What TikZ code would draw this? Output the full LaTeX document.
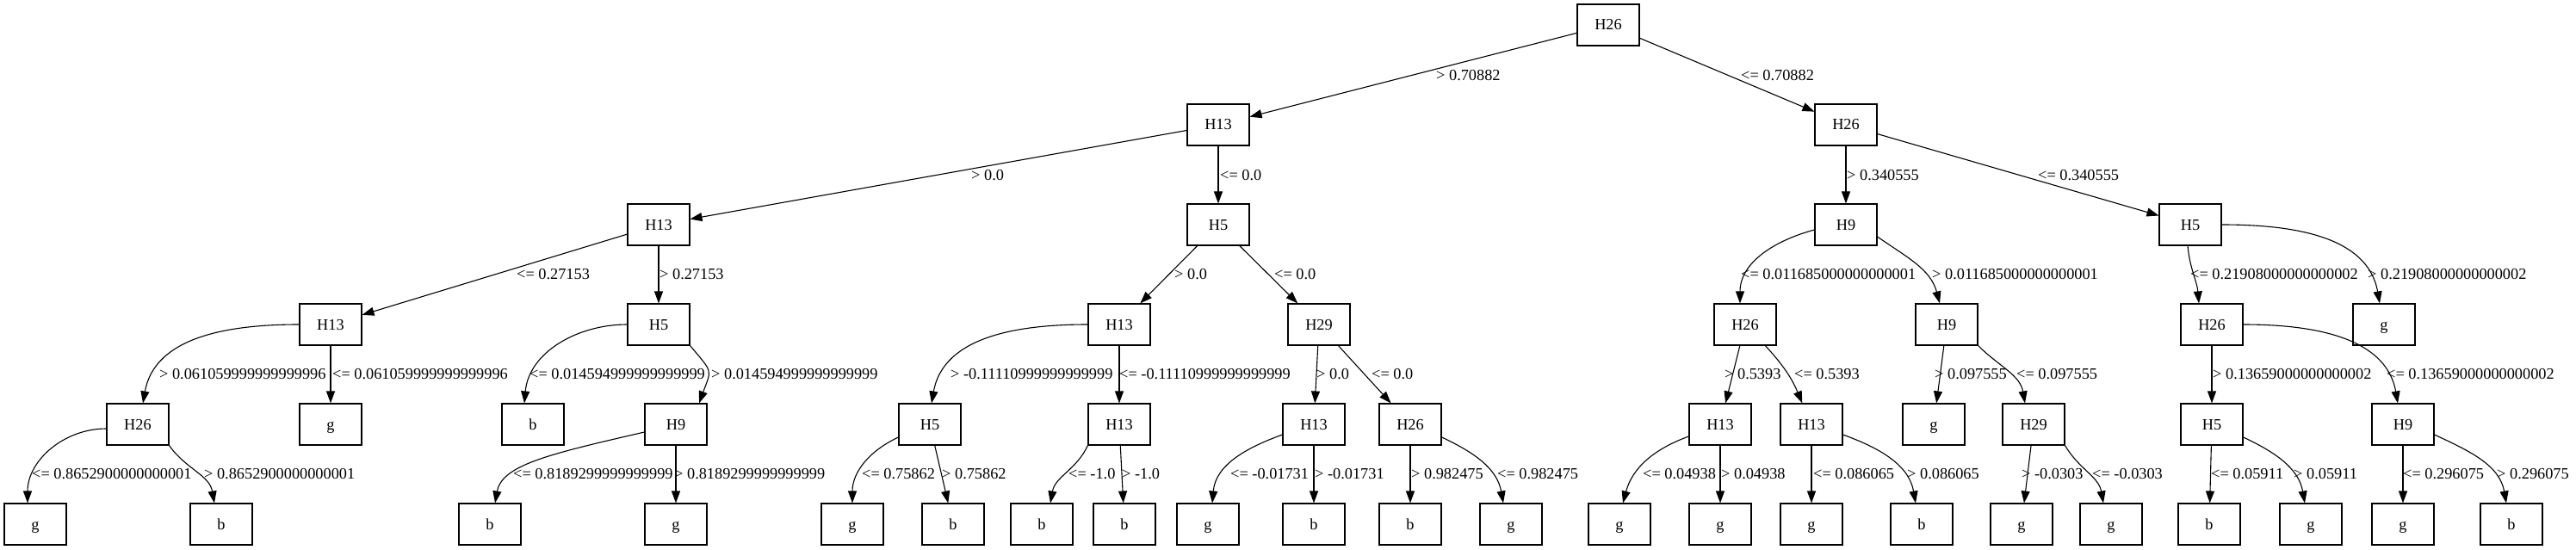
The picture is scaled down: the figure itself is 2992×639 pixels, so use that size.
\documentclass[tikz,border=0pt]{standalone}
\usepackage{fontspec}
\setmainfont{Liberation Serif}
\usetikzlibrary{arrows.meta}

\tikzset{
  box/.style={draw, line width=1.1pt, rectangle, minimum width=72pt, minimum height=48pt, inner sep=0pt, text height=12pt, text depth=0pt},
  branch/.style={line width=1.1pt, -{Triangle[length=14pt,width=10pt]}},
  lbl/.style={anchor=west, inner sep=0pt, text height=12.4pt, text depth=0pt}
}

\begin{document}
\begin{tikzpicture}[x=1pt, y=1pt, font=\fontsize{18.3}{22}\selectfont]

\useasboundingbox (0,0) rectangle (2992,-639);

%LEVEL 0
\node [box] (t) at (1868,-29) {H26};

%LEVEL 1
\node [box] (tl) at (1415,-145) {H13};
\node [box] (tr) at (2144,-145) {H26};

%LEVEL 2
\node [box] (tll) at (765,-261) {H13};
\node [box] (tlr) at (1415,-261) {H5};
\node [box] (trl) at (2144,-261) {H9};
\node [box] (trr) at (2544,-261) {H5};

%LEVEL 3
\node [box] (tlll) at (384,-377) {H13};
\node [box] (tllr) at (765,-377) {H5};
\node [box] (tlrl) at (1300,-377) {H13};
\node [box] (tlrr) at (1532,-377) {H29};
\node [box] (trll) at (2027,-377) {H26};
\node [box] (trlr) at (2261,-377) {H9};
\node [box] (trrl) at (2569,-377) {H26};
\node [box] (trrr) at (2769,-377) {g};

%LEVEL 4
\node [box] (tllll) at (160,-493) {H26};
\node [box] (tlllr) at (384,-493) {g};
\node [box] (tllrl) at (619,-493) {b};
\node [box] (tllrr) at (785,-493) {H9};
\node [box] (tlrll) at (1080,-493) {H5};
\node [box] (tlrlr) at (1300,-493) {H13};
\node [box] (tlrrl) at (1526,-493) {H13};
\node [box] (tlrrr) at (1638,-493) {H26};
\node [box] (trlll) at (1998,-493) {H13};
\node [box] (trllr) at (2104,-493) {H13};
\node [box] (trlrl) at (2246,-493) {g};
\node [box] (trlrr) at (2362,-493) {H29};
\node [box] (trrll) at (2569,-493) {H5};
\node [box] (trrlr) at (2791,-493) {H9};

%LEVEL 5
\node [box] (tlllll) at (41,-609) {g};
\node [box] (tllllr) at (257,-609) {b};
\node [box] (tllrrl) at (569,-609) {b};
\node [box] (tllrrr) at (785,-609) {g};
\node [box] (tlrlll) at (990,-609) {g};
\node [box] (tlrllr) at (1107,-609) {b};
\node [box] (tlrlrl) at (1210,-609) {b};
\node [box] (tlrlrr) at (1306,-609) {b};
\node [box] (tlrrll) at (1403,-609) {g};
\node [box] (tlrrlr) at (1526,-609) {b};
\node [box] (tlrrrl) at (1638,-609) {b};
\node [box] (tlrrrr) at (1755,-609) {g};
\node [box] (trllll) at (1881,-609) {g};
\node [box] (trlllr) at (1998,-609) {g};
\node [box] (trllrl) at (2104,-609) {g};
\node [box] (trllrr) at (2232,-609) {b};
\node [box] (trlrrl) at (2348,-609) {g};
\node [box] (trlrrr) at (2452,-609) {g};
\node [box] (trrlll) at (2566,-609) {b};
\node [box] (trrllr) at (2684,-609) {g};
\node [box] (trrlrl) at (2791,-609) {g};
\node [box] (trrlrr) at (2917,-609) {b};

%BRANCHES 0-1
\draw [branch] (t) -- (tl);
\draw [branch] (t) -- (tr);

%BRANCHES 1-2
\draw [branch] (tl) -- (tll);
\draw [branch] (tl) -- (tlr);
\draw [branch] (tr) -- (trl);
\draw [branch] (tr) -- (trr);

%BRANCHES 2-3
\draw [branch] (tll) -- (tlll);
\draw [branch] (tll) -- (tllr);
\draw [branch] (tlr) -- (tlrl);
\draw [branch] (tlr) -- (tlrr);
\draw [branch] ([yshift=-6pt]trl.west) to[out=195,in=90] ([xshift=-6pt]trll.north);
\draw [branch] ([yshift=-14pt]trl.east) to[out=-35,in=105] ([xshift=-8pt]trlr.north);
\draw [branch] ([xshift=-3pt]trr.south) to[out=-85,in=95] ([xshift=-15pt]trrl.north);
\draw [branch] (trr.east) to[out=0,in=100] ([xshift=-5pt]trrr.north);

%BRANCHES 3-4
\draw [branch] (tlll.west) to[out=180,in=80] ([xshift=6pt]tllll.north);
\draw [branch] (tlll) -- (tlllr);
\draw [branch] (tllr.west) to[out=180,in=85] ([xshift=-10pt]tllrl.north);
\draw [branch] (tllr.south east) to[out=-50,in=70,looseness=1.6] ([xshift=27pt]tllrr.north);
\draw [branch] (tlrl.west) to[out=180,in=80] ([xshift=2pt]tlrll.north);
\draw [branch] (tlrl) -- (tlrlr);
\draw [branch] (tlrr) -- (tlrrl);
\draw [branch] (tlrr) -- (tlrrr);
\draw [branch] (trll) -- (trlll);
\draw [branch] (trll) to[bend left=10] (trllr);
\draw [branch] (trlr) -- (trlrl);
\draw [branch] (trlr.south east) to[out=-45,in=100] ([xshift=-10pt]trlrr.north);
\draw [branch] (trrl) -- (trrll);
\draw [branch] (trrl.east) to[out=0,in=100] ([xshift=-6pt]trrlr.north);

%BRANCHES 4-5
\draw [branch] ([yshift=-5pt]tllll.west) to[out=180,in=90] ([xshift=-9pt]tlllll.north);
\draw [branch] (tllll.south east) to[out=-55,in=100] ([xshift=-8pt]tllllr.north);
\draw [branch] ([yshift=-9pt]tllrr.west) to[out=193,in=80,out looseness=1.5,in looseness=0.6] ([xshift=6pt]tllrrl.north);
\draw [branch] (tllrr) -- (tllrrr);
\draw [branch] ([yshift=-15pt]tlrll.west) to[out=205,in=90] (tlrlll.north);
\draw [branch] (tlrll) -- (tlrllr);
\draw [branch] (tlrlr.south west) to[out=-115,in=80] ([xshift=10pt]tlrlrl.north);
\draw [branch] (tlrlr) -- (tlrlrr);
\draw [branch] ([yshift=-12pt]tlrrl.west) to[out=200,in=85] ([xshift=5pt]tlrrll.north);
\draw [branch] (tlrrl) -- (tlrrlr);
\draw [branch] (tlrrr) -- (tlrrrl);
\draw [branch] ([yshift=-15pt]tlrrr.east) to[out=-25,in=100] ([xshift=-9pt]tlrrrr.north);
\draw [branch] ([yshift=-14pt]trlll.west) to[out=200,in=75] ([xshift=4pt]trllll.north);
\draw [branch] (trlll) -- (trlllr);
\draw [branch] (trllr) -- (trllrl);
\draw [branch] ([yshift=-12pt]trllr.east) to[out=-20,in=100] ([xshift=-7pt]trllrr.north);
\draw [branch] (trlrr) -- (trlrrl);
\draw [branch] (trlrr.south east) to[out=-60,in=100] ([xshift=-9pt]trlrrr.north);
\draw [branch] (trrll) -- (trrlll);
\draw [branch] ([yshift=-15pt]trrll.east) to[out=-25,in=100] ([xshift=-7pt]trrllr.north);
\draw [branch] (trrlr) -- (trrlrl);
\draw [branch] ([yshift=-12pt]trrlr.east) to[out=-25,in=100] ([xshift=-6pt]trrlrr.north);

%LABELS 0-1
\node [lbl] (a1) at (1668,-87) {> 0.70882};
\node [lbl] (a2) at (2022,-87) {<= 0.70882};

%LABELS 1-2
\node [lbl] (b1) at (1128,-203) {> 0.0};
\node [lbl] (b2) at (1417,-203) {<= 0.0};
\node [lbl] (b3) at (2145,-203) {> 0.340555};
\node [lbl] (b4) at (2367,-203) {<= 0.340555};

%LABELS 2-3
\node [lbl] (c1) at (600,-318) {<= 0.27153};
\node [lbl] (c2) at (766,-318) {> 0.27153};
\node [lbl] (c3) at (1364,-318) {> 0.0};
\node [lbl] (c4) at (1480,-318) {<= 0.0};
\node [lbl] (c5) at (2022,-318) {<= 0.011685000000000001};
\node [lbl] (c6) at (2244,-318) {> 0.011685000000000001};
\node [lbl] (c7) at (2544,-318) {<= 0.21908000000000002};
\node [lbl] (c8) at (2750,-318) {> 0.21908000000000002};

%LABELS 3-4
\node [lbl] (d1) at (185,-434) {> 0.061059999999999996};
\node [lbl] (d2) at (386,-434) {<= 0.061059999999999996};
\node [lbl] (d3) at (615,-434) {<= 0.014594999999999999};
\node [lbl] (d4) at (826,-434) {> 0.014594999999999999};
\node [lbl] (d5) at (1104,-434) {> -0.11110999999999999};
\node [lbl] (d6) at (1300,-434) {<= -0.11110999999999999};
\node [lbl] (d7) at (1529,-434) {> 0.0};
\node [lbl] (d8) at (1593,-434) {<= 0.0};
\node [lbl] (d9) at (2003,-434) {> 0.5393};
\node [lbl] (d10) at (2084,-434) {<= 0.5393};
\node [lbl] (d11) at (2247,-434) {> 0.097555};
\node [lbl] (d12) at (2342,-434) {<= 0.097555};
\node [lbl] (d13) at (2570,-434) {> 0.13659000000000002};
\node [lbl] (d14) at (2772,-434) {<= 0.13659000000000002};

%LABELS 4-5
\node [lbl] (e1) at (37,-550) {<= 0.8652900000000001};
\node [lbl] (e2) at (237,-550) {> 0.8652900000000001};
\node [lbl] (e3) at (596,-550) {<= 0.8189299999999999};
\node [lbl] (e4) at (783,-550) {> 0.8189299999999999};
\node [lbl] (e5) at (1001,-550) {<= 0.75862};
\node [lbl] (e6) at (1094,-550) {> 0.75862};
\node [lbl] (e7) at (1241,-550) {<= -1.0};
\node [lbl] (e8) at (1303,-550) {> -1.0};
\node [lbl] (e9) at (1429,-550) {<= -0.01731};
\node [lbl] (e10) at (1527,-550) {> -0.01731};
\node [lbl] (e11) at (1639,-550) {> 0.982475};
\node [lbl] (e12) at (1739,-550) {<= 0.982475};
\node [lbl] (e13) at (1908,-550) {<= 0.04938};
\node [lbl] (e14) at (1999,-550) {> 0.04938};
\node [lbl] (e15) at (2106,-550) {<= 0.086065};
\node [lbl] (e16) at (2215,-550) {> 0.086065};
\node [lbl] (e17) at (2348,-550) {> -0.0303};
\node [lbl] (e18) at (2430,-550) {<= -0.0303};
\node [lbl] (e19) at (2568,-550) {<= 0.05911};
\node [lbl] (e20) at (2664,-550) {> 0.05911};
\node [lbl] (e21) at (2791,-550) {<= 0.296075};
\node [lbl] (e22) at (2900,-550) {> 0.296075};

\end{tikzpicture}
\end{document}
